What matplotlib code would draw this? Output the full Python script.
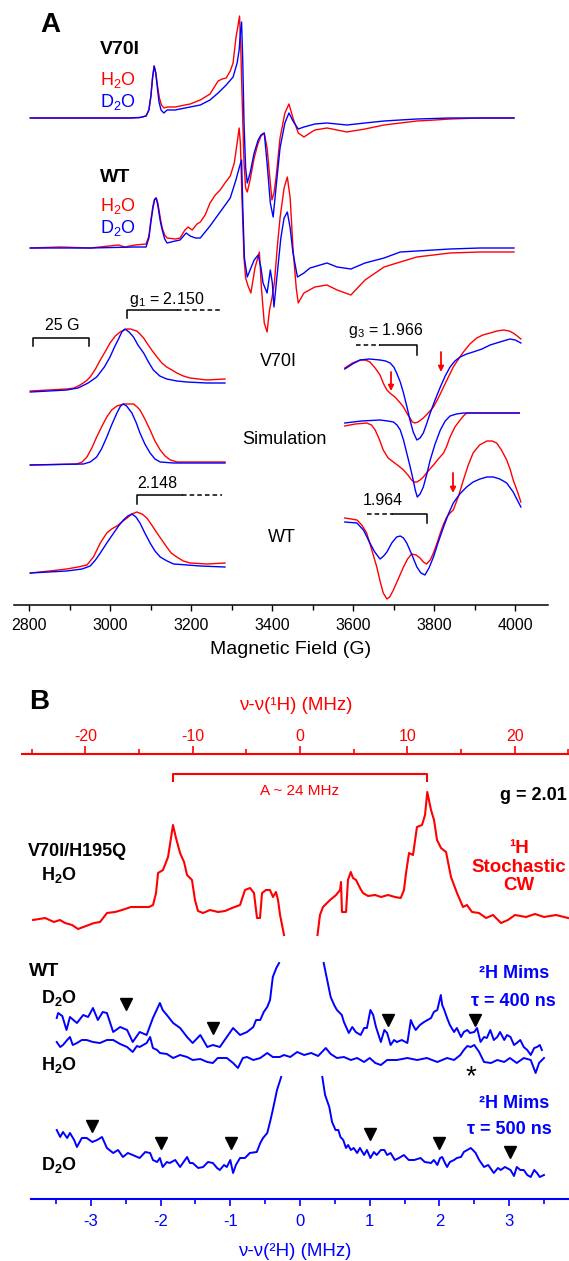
import matplotlib
matplotlib.use("Agg")
import matplotlib.pyplot as plt
from matplotlib.lines import Line2D
from matplotlib.patches import FancyArrowPatch
import numpy as np

plt.rcParams["font.family"] = ["Liberation Sans", "DejaVu Sans"]
plt.rcParams["mathtext.fontset"] = "custom"
plt.rcParams["mathtext.rm"] = "Liberation Sans"
plt.rcParams["mathtext.it"] = "Liberation Sans:italic"
plt.rcParams["mathtext.bf"] = "Liberation Sans:bold"
plt.rcParams["axes.unicode_minus"] = False

RED = "#ff0000"
BLUE = "#0000ff"

# ---------------- panel A: CW EPR, (field G, signal a.u.) ----------------
v70i_h2o = [(2802, 0), (2876, 0), (2975, 0), (3049, 0), (3073, 0.5), (3088, 2), (3095, 8), (3100, 22),
            (3104, 40), (3108, 52), (3112, 45), (3116, 33), (3121, 20), (3126, 13), (3132, 10), (3140, 11),
            (3160, 11), (3172, 12), (3197, 14), (3222, 18), (3246, 24), (3266, 37), (3276, 39), (3286, 40),
            (3296, 47), (3303, 55), (3310, 80), (3315, 92), (3319, 102), (3322, 70), (3326, 10),
            (3330, -45), (3334, -70), (3338, -74), (3345, -62), (3355, -40), (3365, -25), (3372, -18),
            (3380, -15), (3387, -30), (3395, -65), (3399, -82), (3404, -75), (3409, -60), (3419, -20),
            (3431, 5), (3441, 14), (3451, 0), (3464, -15), (3478, -19), (3493, -15), (3505, -12),
            (3535, -10), (3560, -12), (3584, -14), (3629, -11), (3676, -7), (3716, -5), (3757, -3),
            (3802, -2), (3839, -1), (3913, 0), (3997, 0)]
v70i_d2o = [(2802, 0), (2876, 0), (2975, 0), (3049, 0), (3073, 0.5), (3088, 2), (3095, 8), (3100, 22),
            (3104, 40), (3108, 52), (3112, 45), (3116, 30), (3120, 16), (3125, 8), (3132, 5), (3140, 8),
            (3160, 8), (3172, 9), (3197, 11), (3222, 13), (3246, 18), (3266, 25), (3286, 33), (3303, 41),
            (3313, 55), (3318, 68), (3321, 85), (3324, 96), (3327, 55), (3330, -5), (3334, -50),
            (3338, -65), (3345, -55), (3355, -35), (3365, -22), (3372, -17), (3380, -15), (3387, -45),
            (3395, -85), (3402, -99), (3409, -70), (3419, -30), (3431, -5), (3441, 5), (3451, -3),
            (3464, -11), (3478, -9), (3505, -6), (3535, -5), (3584, -7), (3629, -5), (3676, -3),
            (3716, -2), (3757, -1), (3839, 0), (3997, 0)]
wt_h2o = [(2802, 0), (2876, 1), (2950, 0), (3020, 3), (3035, 1), (3061, 3), (3088, 4), (3095, 12),
          (3100, 28), (3105, 42), (3109, 49), (3113, 50), (3117, 45), (3120, 38), (3124, 28), (3128, 20),
          (3134, 13), (3140, 10), (3160, 9), (3172, 10), (3184, 18), (3192, 21), (3202, 18), (3214, 24),
          (3222, 26), (3234, 33), (3246, 45), (3259, 53), (3271, 58), (3283, 65), (3296, 72), (3306, 85),
          (3313, 105), (3318, 120), (3321, 105), (3325, 50), (3330, -10), (3334, -30), (3340, -38),
          (3347, -45), (3357, -20), (3368, -4), (3373, -40), (3380, -75), (3387, -84), (3393, -62),
          (3399, -50), (3405, -35), (3412, 0), (3419, 30), (3429, 60), (3437, 71), (3444, 50),
          (3451, 0), (3459, -40), (3464, -55), (3471, -50), (3478, -45), (3505, -39), (3535, -37),
          (3560, -42), (3594, -47), (3629, -32), (3676, -19), (3716, -14), (3757, -9), (3839, -5),
          (3913, -4), (3997, -4)]
wt_d2o = [(2802, 0), (2876, 0), (2950, 0), (3061, 1), (3088, 1), (3095, 10), (3100, 26), (3105, 40),
          (3109, 48), (3113, 50), (3117, 43), (3120, 35), (3124, 25), (3128, 18), (3134, 9), (3140, 5),
          (3160, 7), (3172, 8), (3187, 15), (3197, 12), (3210, 10), (3222, 10), (3246, 22), (3271, 36),
          (3296, 50), (3310, 68), (3318, 80), (3324, 88), (3327, 40), (3331, -10), (3338, -29),
          (3345, -22), (3355, -12), (3365, -7), (3372, -20), (3377, -35), (3387, -45), (3395, -22),
          (3400, -35), (3404, -59), (3411, -30), (3421, 10), (3429, 30), (3437, 36), (3444, 20),
          (3451, -5), (3462, -29), (3478, -25), (3493, -20), (3535, -15), (3560, -19), (3594, -21),
          (3629, -15), (3676, -10), (3716, -4), (3757, -3), (3839, -1), (3913, 0), (3997, 0)]

# g1 region insets
g1_v70i_d2o = [(2802, 0), (2892, 2), (2920, 4), (2945, 9), (2966, 15), (2985, 25), (2999, 35), (3010, 45),
               (3020, 53), (3028, 60), (3036, 63), (3046, 60), (3057, 55), (3068, 47), (3082, 39),
               (3094, 30), (3106, 22), (3122, 16), (3139, 13), (3164, 11), (3189, 10), (3238, 9), (3283, 9)]
g1_v70i_h2o = [(2802, 1), (2892, 3), (2910, 4), (2925, 7), (2940, 11), (2950, 15), (2963, 23), (2975, 32),
               (2988, 41), (2999, 49), (3012, 56), (3024, 60), (3033, 62), (3041, 63), (3050, 63),
               (3057, 62), (3065, 61), (3073, 58), (3082, 54), (3090, 49), (3102, 42), (3115, 35),
               (3127, 29), (3139, 25), (3152, 22), (3164, 19), (3180, 16), (3197, 14), (3238, 12), (3283, 13)]
g1_sim_d2o = [(2802, 0), (2933, 1), (2950, 3), (2966, 8), (2978, 16), (2991, 28), (3004, 41), (3016, 52),
              (3025, 59), (3032, 61), (3040, 59), (3053, 52), (3063, 43), (3073, 32), (3085, 21),
              (3098, 12), (3110, 6), (3123, 3), (3156, 2), (3283, 2)]
g1_sim_h2o = [(2802, 0), (2917, 1), (2930, 3), (2942, 8), (2954, 17), (2966, 28), (2978, 38), (2991, 48),
              (3003, 55), (3016, 59), (3032, 61), (3045, 61), (3057, 61), (3066, 58), (3073, 55),
              (3085, 46), (3098, 35), (3110, 24), (3123, 15), (3135, 9), (3148, 5), (3165, 3), (3180, 3),
              (3283, 3)]
g1_wt_d2o = [(2802, -1), (2892, 1), (2930, 3), (2950, 6), (2963, 12), (2975, 19), (2991, 29), (3008, 39),
             (3020, 46), (3032, 52), (3043, 56), (3053, 58), (3063, 55), (3073, 49), (3085, 39),
             (3098, 29), (3110, 21), (3123, 15), (3140, 11), (3156, 8), (3190, 7), (3222, 6), (3283, 5)]
g1_wt_h2o = [(2802, -1), (2850, 1), (2892, 3), (2920, 5), (2942, 7), (2958, 15), (2975, 29), (2991, 39),
             (3003, 43), (3016, 46), (3028, 50), (3041, 54), (3053, 58), (3065, 60), (3078, 58),
             (3090, 54), (3102, 47), (3115, 39), (3127, 32), (3139, 25), (3150, 19), (3164, 15),
             (3180, 11), (3197, 9), (3238, 8), (3283, 9)]

# g3 region insets
g3_v70i_h2o = [(3579, -8), (3598, -3), (3617, 0), (3630, 0), (3641, -2), (3654, -8), (3666, -15),
               (3675, -24), (3683, -30), (3693, -34), (3703, -37), (3714, -42), (3724, -47), (3732, -53),
               (3740, -58), (3746, -62), (3752, -63), (3760, -62), (3773, -58), (3785, -53), (3798, -47),
               (3810, -38), (3823, -27), (3835, -17), (3847, -7), (3860, 1), (3872, 8), (3888, 16),
               (3905, 22), (3920, 25), (3938, 27), (3955, 29), (3971, 30), (3985, 29), (3995, 27),
               (4005, 24), (4014, 21)]
g3_v70i_d2o = [(3579, -9), (3598, -4), (3617, 0), (3640, 1), (3666, 0), (3680, -1), (3691, -3),
               (3700, -7), (3707, -13), (3716, -22), (3724, -33), (3732, -46), (3740, -60), (3748, -72),
               (3757, -80), (3765, -78), (3773, -73), (3781, -64), (3790, -53), (3802, -40), (3815, -27),
               (3827, -16), (3839, -7), (3851, -1), (3864, 3), (3880, 6), (3896, 8), (3918, 11),
               (3938, 15), (3962, 18), (3987, 21), (4000, 20), (4014, 17)]
g3_sim_d2o = [(3579, -10), (3620, -8), (3666, -7), (3685, -8), (3699, -9), (3708, -12), (3716, -17),
              (3724, -27), (3732, -40), (3740, -53), (3748, -67), (3753, -77), (3758, -84), (3765, -81),
              (3773, -74), (3781, -62), (3790, -47), (3802, -31), (3815, -17), (3827, -8), (3839, -3),
              (3855, -1), (3872, 0), (4010, 0)]
g3_sim_h2o = [(3579, -13), (3605, -11), (3633, -10), (3645, -12), (3654, -17), (3664, -26), (3674, -37),
              (3686, -45), (3699, -49), (3712, -53), (3724, -57), (3735, -62), (3744, -67), (3750, -69),
              (3757, -69), (3765, -67), (3773, -64), (3785, -58), (3798, -52), (3810, -46), (3823, -40),
              (3831, -33), (3839, -24), (3851, -14), (3864, -7), (3872, -3), (3880, 0), (4010, 0)]
g3_wt_h2o = [(3579, 2), (3595, 1), (3609, 0), (3621, -5), (3633, -13), (3645, -29), (3658, -47),
             (3666, -61), (3674, -73), (3683, -79), (3690, -77), (3699, -70), (3711, -59), (3724, -47),
             (3734, -39), (3744, -34), (3755, -35), (3765, -38), (3773, -42), (3781, -44), (3790, -40),
             (3798, -33), (3807, -23), (3815, -13), (3823, -4), (3831, 3), (3839, 7), (3847, 10),
             (3860, 24), (3872, 40), (3884, 55), (3896, 67), (3912, 75), (3930, 79), (3943, 79),
             (3954, 77), (3966, 70), (3979, 60), (3988, 50), (3995, 40), (4005, 29), (4014, 18)]
g3_wt_d2o = [(3579, -2), (3609, -3), (3625, -10), (3641, -23), (3653, -32), (3666, -39), (3675, -36),
             (3683, -32), (3695, -23), (3707, -17), (3716, -16), (3724, -18), (3732, -23), (3745, -35),
             (3757, -47), (3767, -53), (3777, -55), (3787, -48), (3798, -37), (3810, -22), (3823, -7),
             (3835, 6), (3847, 17), (3863, 26), (3880, 33), (3896, 38), (3913, 41), (3930, 43),
             (3946, 43), (3962, 41), (3979, 37), (3995, 28), (4014, 13)]

field_ticks = [2800, 3000, 3200, 3400, 3600, 3800, 4000]

# ---------------- panel B: ENDOR, (MHz, signal a.u.) ----------------
h1_cw_left = [(-24.88, 0), (-23.76, 2), (-22.93, -2), (-22.37, 0), (-21.90, -3), (-21.25, -5),
              (-20.69, -9), (-19.94, -6), (-19.20, -3), (-18.64, -2), (-17.99, 7), (-17.24, 8),
              (-16.59, 10), (-15.75, 13), (-14.91, 13), (-14.07, 13), (-13.70, 15), (-13.42, 27),
              (-13.23, 47), (-12.77, 50), (-12.30, 63), (-11.84, 95), (-11.56, 82), (-11.18, 67),
              (-10.81, 58), (-10.53, 45), (-10.07, 40), (-9.79, 20), (-9.51, 9), (-9.04, 7),
              (-8.39, 10), (-7.64, 8), (-6.99, 9), (-6.34, 12), (-5.59, 15), (-5.13, 30), (-4.66, 32),
              (-4.29, 27), (-4.01, 2), (-3.73, 2), (-3.54, 27), (-3.17, 30), (-2.80, 30), (-2.52, 23),
              (-2.24, 28), (-2.05, 20), (-1.86, 5), (-1.49, -15)]
h1_cw_right = [(1.63, -15), (1.86, 5), (2.14, 13), (2.80, 20), (3.36, 25), (3.73, 30), (3.82, 38),
               (3.91, 8), (4.29, 8), (4.47, 40), (4.73, 48), (4.94, 42), (5.22, 40), (5.59, 32),
               (5.87, 27), (6.34, 24), (6.99, 25), (7.55, 23), (8.20, 25), (8.85, 23), (9.38, 22),
               (9.69, 30), (9.88, 47), (10.16, 67), (10.53, 65), (10.90, 93), (11.37, 95), (11.65, 105),
               (11.86, 128), (12.21, 110), (12.49, 100), (12.77, 80), (13.14, 72), (13.61, 68),
               (14.07, 43), (14.63, 27), (15.19, 13), (15.56, 15), (16.03, 8), (16.68, 7), (17.34, 2),
               (17.99, 5), (18.73, -3), (19.38, 0), (20.04, 5), (21.06, 3), (21.90, 6), (22.74, 3),
               (23.86, 5), (24.98, 2)]

d400_left = [(-3.49, 17), (-3.47, 22), (-3.41, 19), (-3.35, 5), (-3.30, 18), (-3.20, 12), (-3.11, 20),
             (-3.04, 18), (-2.97, 27), (-2.90, 15), (-2.83, 23), (-2.77, 22), (-2.68, 3), (-2.58, 8),
             (-2.48, 5), (-2.40, -7), (-2.30, 3), (-2.20, 0), (-2.11, 17), (-2.01, 32), (-1.97, 25),
             (-1.91, 20), (-1.82, 12), (-1.72, 7), (-1.62, -2), (-1.54, -8), (-1.43, 0), (-1.33, -12),
             (-1.25, -10), (-1.15, -12), (-1.05, -2), (-0.96, 7), (-0.86, 0), (-0.76, 3), (-0.67, 8),
             (-0.63, 15), (-0.57, 15), (-0.52, 23), (-0.47, 28), (-0.43, 35), (-0.39, 58), (-0.34, 67),
             (-0.30, 72)]
d400_right = [(0.34, 72), (0.39, 55), (0.44, 38), (0.49, 30), (0.53, 25), (0.60, 20), (0.63, 13),
              (0.70, 2), (0.75, 8), (0.80, 3), (0.87, 0), (0.92, 7), (0.96, 7), (1.01, 25), (1.05, 20),
              (1.09, 8), (1.16, -7), (1.21, 5), (1.25, 2), (1.30, -10), (1.35, -5), (1.39, -7),
              (1.46, -5), (1.54, -8), (1.59, 15), (1.62, 10), (1.66, 5), (1.72, 10), (1.78, 13),
              (1.88, 17), (1.92, 23), (1.97, 25), (2.02, 40), (2.04, 30), (2.07, 25), (2.11, 17),
              (2.15, 10), (2.21, 3), (2.25, 7), (2.31, -2), (2.35, 3), (2.40, 5), (2.44, 2), (2.50, 3),
              (2.54, 7), (2.59, -7), (2.64, -2), (2.68, -3), (2.73, 5), (2.78, -5), (2.83, -2),
              (2.87, 3), (2.93, -5), (2.97, 0), (3.02, -2), (3.07, -10), (3.11, -8), (3.16, -5),
              (3.21, -12), (3.26, -15), (3.31, -20), (3.36, -13), (3.40, -12), (3.44, -10), (3.47, -15)]
h2o_mims = [(-3.49, 16), (-3.44, 11), (-3.40, 13), (-3.34, 18), (-3.30, 21), (-3.26, 13), (-3.20, 15),
            (-3.13, 18), (-3.06, 18), (-2.97, 16), (-2.87, 15), (-2.77, 18), (-2.68, 18), (-2.58, 14),
            (-2.48, 11), (-2.40, 6), (-2.34, 12), (-2.30, 11), (-2.20, 15), (-2.15, 21), (-2.11, 10),
            (-2.05, 8), (-2.01, 5), (-1.91, 4), (-1.82, 0), (-1.72, 3), (-1.62, 1), (-1.54, -2),
            (-1.43, -1), (-1.33, -4), (-1.25, -5), (-1.18, 0), (-1.05, 0), (-0.96, -5), (-0.89, -10),
            (-0.82, 0), (-0.76, 1), (-0.67, -2), (-0.57, 0), (-0.47, 5), (-0.39, 1), (-0.29, 1),
            (-0.23, 3), (-0.14, 1), (-0.04, 6), (0.06, 3), (0.16, 5), (0.26, 2), (0.37, 10), (0.44, 4),
            (0.53, 0), (0.63, 1), (0.73, -2), (0.82, 0), (0.92, -4), (1.00, 0), (1.08, -5), (1.16, -7),
            (1.25, -2), (1.39, -2), (1.54, 0), (1.68, -2), (1.82, 0), (1.97, -4), (2.11, 0), (2.21, -2),
            (2.30, 3), (2.35, 8), (2.40, 12), (2.45, 11), (2.50, 13), (2.57, 6), (2.64, -4), (2.74, -5),
            (2.83, -2), (2.93, -4), (3.01, 0), (3.11, -5), (3.21, 0), (3.31, -2), (3.38, -15),
            (3.43, -5), (3.50, 0)]
d500_left = [(-3.49, 30), (-3.44, 23), (-3.40, 28), (-3.34, 22), (-3.30, 27), (-3.24, 20), (-3.20, 13),
             (-3.13, 22), (-3.06, 22), (-2.98, 18), (-2.91, 20), (-2.84, 23), (-2.77, 12), (-2.68, 7),
             (-2.61, 10), (-2.54, 3), (-2.47, 7), (-2.40, 5), (-2.30, 2), (-2.22, 8), (-2.15, 7),
             (-2.11, 0), (-2.05, -2), (-2.01, 2), (-1.97, -7), (-1.91, -2), (-1.87, -3), (-1.79, 0),
             (-1.72, -7), (-1.62, 3), (-1.58, -3), (-1.54, -3), (-1.46, -8), (-1.39, -7), (-1.32, -2),
             (-1.25, -3), (-1.19, -8), (-1.15, -10), (-1.09, -5), (-1.05, -7), (-1.00, 0), (-0.96, -13),
             (-0.92, -5), (-0.86, 2), (-0.79, 2), (-0.72, 7), (-0.62, 8), (-0.57, 17), (-0.53, 22),
             (-0.47, 27), (-0.43, 38), (-0.40, 47), (-0.36, 60), (-0.33, 70), (-0.27, 83)]
d500_right = [(0.32, 83), (0.36, 65), (0.42, 53), (0.46, 38), (0.51, 30), (0.55, 30), (0.58, 23),
              (0.62, 20), (0.66, 12), (0.69, 15), (0.73, 10), (0.77, 12), (0.82, 7), (0.86, 12),
              (0.92, 5), (0.96, 10), (1.01, 2), (1.06, 8), (1.10, 5), (1.16, 10), (1.21, 10), (1.25, 5),
              (1.30, 7), (1.36, 0), (1.42, 2), (1.49, 5), (1.56, 0), (1.64, 0), (1.73, 2), (1.79, -2),
              (1.88, -3), (1.92, 0), (1.97, -5), (2.01, 2), (2.04, 3), (2.08, -3), (2.11, -7),
              (2.15, -2), (2.21, 0), (2.25, 2), (2.31, 3), (2.35, 8), (2.40, 10), (2.45, 12), (2.48, 10),
              (2.52, 7), (2.57, 0), (2.64, -7), (2.70, -5), (2.78, -13), (2.84, -8), (2.88, -10),
              (2.94, -7), (3.02, -10), (3.07, -16), (3.11, -7), (3.16, -10), (3.21, -10), (3.26, -15),
              (3.31, -17), (3.36, -10), (3.40, -13), (3.44, -17), (3.50, -15)]

# marker positions (MHz, a.u.)
tri_400 = [(-2.50, 195), (-1.25, 171), (1.26, 179), (2.51, 179)]
tri_500 = [(-2.99, 73), (-2.00, 56), (-0.99, 56), (1.00, 65), (2.00, 56), (3.01, 47)]

h1_ticks = [-20, -10, 0, 10, 20]
h1_minor = [-25, -15, -5, 5, 15, 25]
h2_ticks = [-3, -2, -1, 0, 1, 2, 3]
h2_minor = [-3.5, -2.5, -1.5, -0.5, 0.5, 1.5, 2.5, 3.5]

# ---------------- layout helpers (pixel -> figure) ----------------
W, H = 569, 1261
fig = plt.figure(figsize=(W / 100, H / 100), dpi=100)


def frame(x0, y0, x1, y1):
    return [x0 / W, 1 - y1 / H, (x1 - x0) / W, (y1 - y0) / H]


def ftext(px, py, s, **kw):
    kw.setdefault("va", "center")
    kw.setdefault("ha", "left")
    fig.text(px / W, 1 - py / H, s, **kw)


def fline(xs, ys, **kw):
    kw.setdefault("color", "black")
    kw.setdefault("lw", 1.1)
    fig.add_artist(Line2D([x / W for x in xs], [1 - y / H for y in ys], transform=fig.transFigure, **kw))


def farrow(px, y0, y1):
    fig.add_artist(FancyArrowPatch(
        (px / W, 1 - y0 / H), (px / W, 1 - y1 / H), transform=fig.transFigure,
        arrowstyle="-|>", mutation_scale=8, color=RED, lw=1.3, shrinkA=0, shrinkB=0))


def draw(ax, pairs, offset, color, lw):
    arr = np.array(pairs, dtype=float)
    ax.plot(arr[:, 0], arr[:, 1] + offset, color=color, lw=lw, solid_joinstyle="round")


# ---------------- panel A ----------------
ax_a = fig.add_axes(frame(14.5, 0, 548, 605))
ax_a.set_xlim(2763, 4081)
ax_a.set_ylim(0, 605)
ax_a.patch.set_alpha(0)
for side in ("top", "left", "right"):
    ax_a.spines[side].set_visible(False)
ax_a.spines["bottom"].set_linewidth(1.1)
ax_a.set_yticks([])
ax_a.set_xticks(field_ticks)
ax_a.set_xticks(np.arange(2800, 4001, 100), minor=True)
ax_a.tick_params(axis="x", which="major", length=4, width=1.0, labelsize=11.5, pad=5)
ax_a.tick_params(axis="x", which="minor", length=3.5, width=1.0)

for pairs, off, col in [(v70i_h2o, 487, RED), (v70i_d2o, 487, BLUE),
                        (wt_h2o, 357, RED), (wt_d2o, 357, BLUE),
                        (g1_v70i_h2o, 213, RED), (g1_v70i_d2o, 213, BLUE),
                        (g1_sim_h2o, 140, RED), (g1_sim_d2o, 140, BLUE),
                        (g1_wt_h2o, 33, RED), (g1_wt_d2o, 33, BLUE),
                        (g3_v70i_h2o, 245, RED), (g3_v70i_d2o, 245, BLUE),
                        (g3_sim_h2o, 192, RED), (g3_sim_d2o, 192, BLUE),
                        (g3_wt_h2o, 85, RED), (g3_wt_d2o, 85, BLUE)]:
    draw(ax_a, pairs, off, col, 1.0)

ftext(40, 25, "A", fontsize=20, fontweight="bold")
ftext(100, 50, "V70I", fontsize=14, fontweight="bold")
ftext(100, 80, "H$_2$O", fontsize=13, color=RED)
ftext(100, 102, "D$_2$O", fontsize=13, color=BLUE)
ftext(100, 178, "WT", fontsize=14, fontweight="bold")
ftext(100, 206, "H$_2$O", fontsize=13, color=RED)
ftext(100, 228, "D$_2$O", fontsize=13, color=BLUE)

ftext(129, 299, "g$_1$ = 2.150", fontsize=11.5)
fline([126.7, 126.7, 176.7], [318, 310, 310])
fline([176.7, 221.7], [310, 310], ls=(0, (3, 2)))
ftext(62, 325, "25 G", fontsize=11.5, ha="center")
fline([33, 33, 89, 89], [346, 338, 338, 346])
ftext(137, 483, "2.148", fontsize=11.5)
fline([136.7, 136.7, 181.7], [504, 495, 495])
fline([181.7, 221.7], [495, 495], ls=(0, (3, 2)))

ftext(278, 362, "V70I", fontsize=13, ha="center")
ftext(284, 440, "Simulation", fontsize=13, ha="center")
ftext(282, 538, "WT", fontsize=13, ha="center")

ftext(348, 331, "g$_3$ = 1.966", fontsize=11.5)
fline([356, 380], [345, 345], ls=(0, (3, 2)))
fline([380, 416.7, 416.7], [345, 345, 355])
ftext(363, 501, "1.964", fontsize=11.5)
fline([366.7, 393], [514, 514], ls=(0, (3, 2)))
fline([393, 426.7, 426.7], [514, 514, 523])
farrow(441, 352, 372)
farrow(391, 372, 391)
farrow(453, 473, 493)

ftext(291, 650, "Magnetic Field (G)", fontsize=14, ha="center")

# ---------------- panel B ----------------
ax_h = fig.add_axes(frame(21.7, 754, 569, 1199))
ax_h.set_xlim(-25.94, 25.07)
ax_h.set_ylim(0, 445)
ax_d = fig.add_axes(frame(31, 754, 569, 1199))
ax_d.set_xlim(-3.859, 3.859)
ax_d.set_ylim(0, 445)
for ax in (ax_h, ax_d):
    ax.patch.set_alpha(0)
    for side in ("top", "bottom", "left", "right"):
        ax.spines[side].set_visible(False)
    ax.set_yticks([])

ax_h.spines["top"].set_visible(True)
ax_h.spines["top"].set_color(RED)
ax_h.spines["top"].set_linewidth(1.5)
ax_h.xaxis.tick_top()
ax_h.set_xticks(h1_ticks)
ax_h.set_xticks(h1_minor, minor=True)
ax_h.tick_params(axis="x", which="both", colors=RED, width=1.2, labelsize=11.5, pad=2)
ax_h.tick_params(axis="x", which="major", length=5.5)
ax_h.tick_params(axis="x", which="minor", length=3.5)

ax_d.spines["bottom"].set_visible(True)
ax_d.spines["bottom"].set_color(BLUE)
ax_d.spines["bottom"].set_linewidth(1.5)
ax_d.set_xticks(h2_ticks)
ax_d.set_xticks(h2_minor, minor=True)
ax_d.tick_params(axis="x", which="both", colors=BLUE, width=1.2, labelsize=12, pad=6)
ax_d.tick_params(axis="x", which="major", length=5)
ax_d.tick_params(axis="x", which="minor", length=3.5)

draw(ax_h, h1_cw_left, 279, RED, 1.5)
draw(ax_h, h1_cw_right, 279, RED, 1.5)
draw(ax_d, d400_left, 164, BLUE, 1.4)
draw(ax_d, d400_right, 164, BLUE, 1.4)
draw(ax_d, h2o_mims, 141, BLUE, 1.4)
draw(ax_d, d500_left, 39, BLUE, 1.4)
draw(ax_d, d500_right, 39, BLUE, 1.4)
for tri in (tri_400, tri_500):
    arr = np.array(tri)
    ax_d.plot(arr[:, 0], arr[:, 1], ls="none", marker="v", ms=8, color="black")

ftext(29, 702, "B", fontsize=20, fontweight="bold")
ftext(296, 706, "ν-ν(¹H) (MHz)", fontsize=13.5, ha="center", color=RED)
fline([173.3, 173.3, 427.3, 427.3], [781, 774.3, 774.3, 781], color=RED, lw=1.5)
ftext(300, 791, "A ~ 24 MHz", fontsize=11, ha="center", color=RED)
ftext(567, 795, "g = 2.01", fontsize=13, ha="right", fontweight="bold")
ftext(28, 852, "V70I/H195Q", fontsize=13, fontweight="bold")
ftext(41, 875, r"H$_\mathbf{2}$O", fontsize=13, fontweight="bold")
ftext(519, 867, "¹H\nStochastic\nCW", fontsize=13.5, ha="center", fontweight="bold",
      color=RED, linespacing=1.15)

ftext(29, 972, "WT", fontsize=14, fontweight="bold")
ftext(41, 998, r"D$_\mathbf{2}$O", fontsize=13, fontweight="bold")
ftext(41, 1065, r"H$_\mathbf{2}$O", fontsize=13, fontweight="bold")
ftext(41, 1165, r"D$_\mathbf{2}$O", fontsize=13, fontweight="bold")
ftext(514, 973, "²H Mims", fontsize=13, ha="center", fontweight="bold", color=BLUE)
ftext(513, 1001, "τ = 400 ns", fontsize=13, ha="center", fontweight="bold", color=BLUE)
ftext(514, 1103, "²H Mims", fontsize=13, ha="center", fontweight="bold", color=BLUE)
ftext(509, 1130, "τ = 500 ns", fontsize=13, ha="center", fontweight="bold", color=BLUE)
ftext(471, 1077, "*", fontsize=20, ha="center")
ftext(295, 1252, "ν-ν(²H) (MHz)", fontsize=13.5, ha="center", color=BLUE)

fig.savefig("out.png", dpi=100)
plt.close(fig)
